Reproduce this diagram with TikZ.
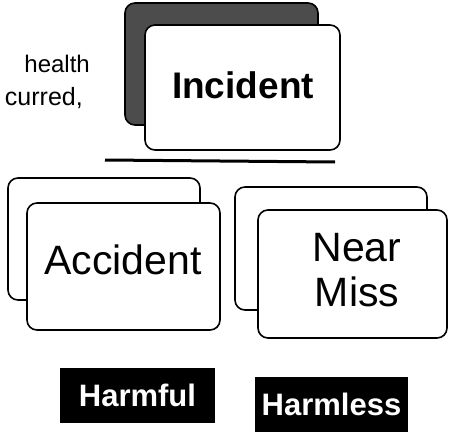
\documentclass[tikz,border=0pt]{standalone}
\usepackage{fontspec}
\setmainfont{Liberation Sans}
\begin{document}
\begin{tikzpicture}[x=1pt,y=-1pt,
  card/.style={draw=black,line width=1.6pt,rounded corners=10pt,fill=white,inner sep=0pt},
  darkcard/.style={card,fill=black!70},
  tag/.style={fill=black,text=white,inner sep=0pt,font=\fontsize{31}{32}\selectfont\bfseries},
  big/.style={font=\fontsize{41}{42}\selectfont,align=center}]
\useasboundingbox (0,0) rectangle (449,436);
% left text
\node[anchor=base east,inner sep=0pt,font=\fontsize{24}{25}\selectfont] (t1) at (90,72) {health};
\node[anchor=base east,inner sep=0pt,font=\fontsize{25}{26}\selectfont] (t2) at (83,105) {curred,};
% incident
\draw[darkcard] (125,3) rectangle (318,125);
\node[card,minimum width=195pt,minimum height=125pt] (inc) at (242.5,87.5) {};
\node[font=\fontsize{37}{38}\selectfont\bfseries] (inct) at (243,85) {Incident};
\coordinate (ll) at (105,160);
\coordinate (lr) at (335,162);
\draw[line width=3pt] (ll) -- (lr);
% accident
\draw[card] (8,178) rectangle (200,300);
\node[card,minimum width=193pt,minimum height=127pt] (acc) at (123.5,266.5) {};
\node[big] (acct) at (123,260) {Accident};
% near miss
\draw[card] (235,187) rectangle (427,310);
\node[card,minimum width=189pt,minimum height=128pt] (nm) at (352.5,274) {};
\node[big,font=\fontsize{41}{45}\selectfont] (nmt) at (357,270) {Near\\Miss};
% tags
\node[tag,minimum width=155pt,minimum height=55pt] (harm) at (137.5,395.5) {Harmful};
\node[tag,minimum width=153pt,minimum height=55pt] (harml) at (331.5,404.5) {Harmless};
\end{tikzpicture}
\end{document}
